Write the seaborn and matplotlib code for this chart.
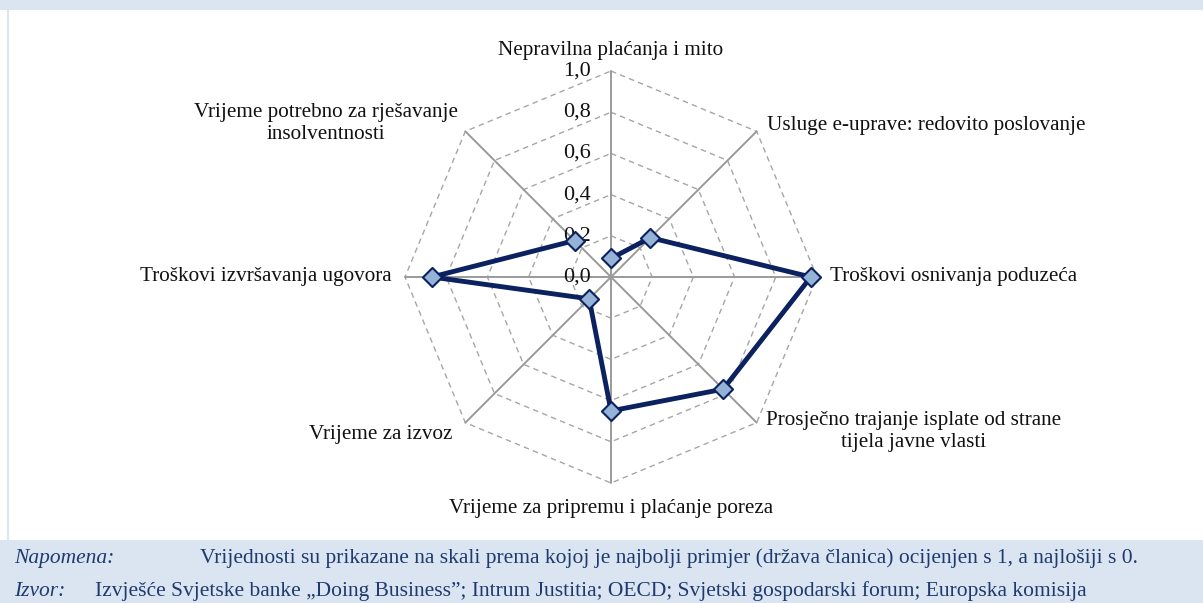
import numpy as np
import pandas as pd
import matplotlib.pyplot as plt
import seaborn as sns
from matplotlib.lines import Line2D
from matplotlib.patches import Rectangle

# --- data ---
categories = [
    'Nepravilna plaćanja i mito',
    'Usluge e-uprave: redovito poslovanje',
    'Troškovi osnivanja poduzeća',
    'Prosječno trajanje isplate od strane\ntijela javne vlasti',
    'Vrijeme za pripremu i plaćanje poreza',
    'Vrijeme za izvoz',
    'Troškovi izvršavanja ugovora',
    'Vrijeme potrebno za rješavanje\ninsolventnosti',
]
values = [0.09, 0.27, 0.97, 0.77, 0.65, 0.15, 0.87, 0.25]
ring_levels = [0.2, 0.4, 0.6, 0.8, 1.0]
ring_labels = ['0,0', '0,2', '0,4', '0,6', '0,8', '1,0']
note_text = ('Vrijednosti su prikazane na skali prema kojoj je najbolji primjer '
             '(država članica) ocijenjen s 1, a najlošiji s 0.')
source_text = ('Izvješće Svjetske banke „Doing Business”; Intrum Justitia; OECD; '
               'Svjetski gospodarski forum; Europska komisija')

# --- style ---
sns.set_style('white')
plt.rcParams['font.family'] = ['Liberation Serif', 'DejaVu Serif']

navy = '#0b2160'
marker_face = '#95b3d7'
spoke_col = '#9a9a9a'
grid_col = '#a6a6a6'
band_col = '#dbe5f1'
note_col = '#1f3a6e'
W, H = 1203, 603

fig = plt.figure(figsize=(W / 100, H / 100), dpi=100)

# background bands
fig.add_artist(Rectangle((0, 1 - 10 / H), 1, 10 / H, transform=fig.transFigure,
                         facecolor=band_col, edgecolor='none', zorder=0))
fig.add_artist(Rectangle((0, 0), 1, 63 / H, transform=fig.transFigure,
                         facecolor=band_col, edgecolor='none', zorder=0))
fig.add_artist(Line2D([7.5 / W, 7.5 / W], [63 / H, 1 - 10 / H], transform=fig.transFigure,
                      color=band_col, linewidth=1.5))

# radar axes: centre (611, 277) px, radius 206 px
cx, cy, R = 611, 277, 206
ax = fig.add_axes([(cx - R) / W, (H - cy - R) / H, 2 * R / W, 2 * R / H], projection='polar')
ax.set_theta_zero_location('N')
ax.set_theta_direction(-1)
ax.set_ylim(0, 1)
ax.grid(False)
ax.set_xticks([])
ax.set_yticks([])
ax.spines['polar'].set_visible(False)
ax.patch.set_alpha(0)

n = len(categories)
theta = np.arange(n) * 2 * np.pi / n
theta_closed = np.append(theta, theta[0])

# octagonal dashed rings
for lv in ring_levels:
    ax.plot(theta_closed, [lv] * (n + 1), color=grid_col, linestyle=(0, (4, 3)),
            linewidth=1.0, clip_on=False, zorder=1)
# spokes
for t in theta:
    ax.plot([t, t], [0, 1], color=spoke_col, linewidth=1.4, clip_on=False, zorder=2)

# data series
df = pd.DataFrame({'theta': theta_closed, 'value': values + values[:1]})
sns.lineplot(data=df, x='theta', y='value', sort=False, color=navy, linewidth=3.5,
             ax=ax, zorder=4, clip_on=False)
sns.scatterplot(data=df.iloc[:-1], x='theta', y='value', marker='D', s=95,
                color=marker_face, edgecolor=navy, linewidth=1.5, ax=ax,
                zorder=5, clip_on=False)
ax.set_xlabel('')
ax.set_ylabel('')

# radial tick labels along top spoke
for i, lab in enumerate(ring_labels):
    r = i * 0.2
    ax.annotate(lab, xy=(0, r), xytext=(-20, 0), textcoords='offset pixels',
                ha='right', va='center', fontsize=16, color='#111111', zorder=3)

# category labels
offsets = [
    ((0, 21), 'center', 'center'),
    ((10, 6), 'left', 'center'),
    ((13, 0), 'left', 'center'),
    ((9, -9), 'left', 'center'),
    ((0, -25), 'center', 'center'),
    ((-13, -12), 'right', 'center'),
    ((-13, 0), 'right', 'center'),
    ((-7, 8), 'right', 'center'),
]
for t, lab, (off, ha, va) in zip(theta, categories, offsets):
    ax.annotate(lab, xy=(t, 1.0), xytext=off, textcoords='offset pixels',
                ha=ha, va=va, fontsize=15.2, color='#111111', multialignment='center',
                linespacing=1.25, annotation_clip=False)

# notes at the bottom
fs_note = 15.5
fig.text(14 / W, 1 - 558 / H, 'Napomena:', style='italic', fontsize=fs_note,
         color=note_col, va='center', ha='left')
fig.text(200 / W, 1 - 558 / H, note_text, fontsize=fs_note, color=note_col,
         va='center', ha='left')
fig.text(14 / W, 1 - 591 / H, 'Izvor:', style='italic', fontsize=fs_note,
         color=note_col, va='center', ha='left')
fig.text(95 / W, 1 - 591 / H, source_text, fontsize=fs_note, color=note_col,
         va='center', ha='left')

fig.savefig('out.png', dpi=100)
